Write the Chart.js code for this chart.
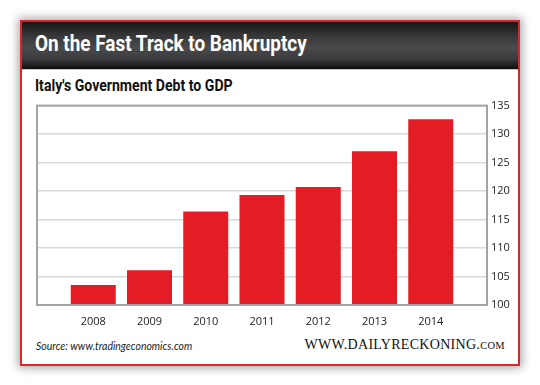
<!DOCTYPE html>
<html>
<head>
<meta charset="utf-8">
<script src="https://cdn.jsdelivr.net/npm/chart.js@4"></script>
<style>
  html, body { margin: 0; padding: 0; background: #fff; }
  body { width: 540px; height: 385px; position: relative; overflow: hidden; }
  #frame {
    position: absolute; left: 20px; top: 20px; width: 500px; height: 346px;
    box-sizing: border-box; border: 2px solid #d9252c; background: #fff;
    box-shadow: 0 0 9px 2px rgba(0,0,0,0.35);
  }
  #header {
    position: absolute; left: 0; top: 0; right: 0; height: 47px;
    background: linear-gradient(#161616 0%, #38383a 30%, #4a4a4c 55%, #3a3a3c 80%, #0c0c0c 100%);
    border-bottom: 1px solid #c8c8c8;
  }
  .cond { font-family: "Roboto", "DejaVu Sans", sans-serif; font-weight: bold; transform-origin: 0 0; }
  #title { position: absolute; left: 35px; top: 32px; font-size: 22px; line-height: 24px; color: #fff; white-space: nowrap; transform: scaleX(0.86); }
  #subtitle { position: absolute; left: 35px; top: 77px; font-size: 16px; line-height: 18px; color: #111; white-space: nowrap; transform: scaleX(0.88); }
  #wrap { position: absolute; left: 20px; top: 95px; width: 500px; height: 230px; }
  #source { position: absolute; left: 36px; top: 339px; font-family: "Lato", "Open Sans", sans-serif; font-style: italic; font-size: 11.5px; color: #222; white-space: nowrap; transform-origin: 0 0; transform: scaleX(0.91); }
  #site { position: absolute; right: 35px; top: 337px; font-family: "Liberation Serif", "DejaVu Serif", serif; font-size: 14px; letter-spacing: 0.3px; color: #111; white-space: nowrap; }
  #site small { font-size: 10.5px; }
</style>
</head>
<body>
<div id="frame"><div id="header"></div></div>
<div id="title" class="cond">On the Fast Track to Bankruptcy</div>
<div id="subtitle" class="cond">Italy's Government Debt to GDP</div>
<div id="wrap"><canvas id="chart" width="500" height="230"></canvas></div>
<div id="source">Source: www.tradingeconomics.com</div>
<div id="site">WWW.DAILYRECKONING.<small>COM</small></div>
<script>
// values
const years = [2008, 2009, 2010, 2011, 2012, 2013, 2014];
const debtToGdp = [103.5, 106.1, 116.4, 119.3, 120.7, 127.0, 132.6];
const yTicks = [100, 105, 110, 115, 120, 125, 130, 135];

// draws the grey box around the plot area
const plotBox = {
  id: 'plotBox',
  afterDatasetsDraw(chart) {
    const a = chart.chartArea, c = chart.ctx;
    c.save();
    c.strokeStyle = '#a3a3a3';
    c.lineWidth = 2;
    c.strokeRect(a.left, a.top, a.right - a.left, a.bottom - a.top);
    c.restore();
  }
};

new Chart(document.getElementById('chart').getContext('2d'), {
  type: 'bar',
  data: {
    datasets: [{
      data: years.map((y, i) => ({ x: y, y: debtToGdp[i] })),
      backgroundColor: '#e31c25',
      borderWidth: 0,
      categoryPercentage: 1,
      barPercentage: 0.8
    }]
  },
  options: {
    responsive: false,
    animation: false,
    layout: { padding: { left: 17, top: 9, right: 0, bottom: 0 } },
    plugins: { legend: { display: false }, tooltip: { enabled: false } },
    scales: {
      x: {
        type: 'linear',
        offset: false,
        min: years[0] - 1,
        max: years[years.length - 1] + 1,
        grid: { display: false },
        border: { display: false },
        afterBuildTicks: s => { s.ticks = years.map(v => ({ value: v })); },
        afterFit: s => { s.height = 20; },
        ticks: {
          callback: v => String(v),
          color: '#222',
          font: { family: 'Open Sans, sans-serif', size: 11 },
          padding: 2,
          maxRotation: 0,
          autoSkip: false
        }
      },
      y: {
        position: 'right',
        min: yTicks[0],
        max: yTicks[yTicks.length - 1],
        afterBuildTicks: s => { s.ticks = yTicks.map(v => ({ value: v })); },
        afterFit: s => { s.width = 33; },
        grid: { color: '#d9d9d9', lineWidth: 1.5, drawTicks: false },
        border: { display: false },
        ticks: {
          color: '#222',
          font: { family: 'Open Sans, sans-serif', size: 11 },
          padding: 4
        }
      }
    }
  },
  plugins: [plotBox]
});
</script>
</body>
</html>
